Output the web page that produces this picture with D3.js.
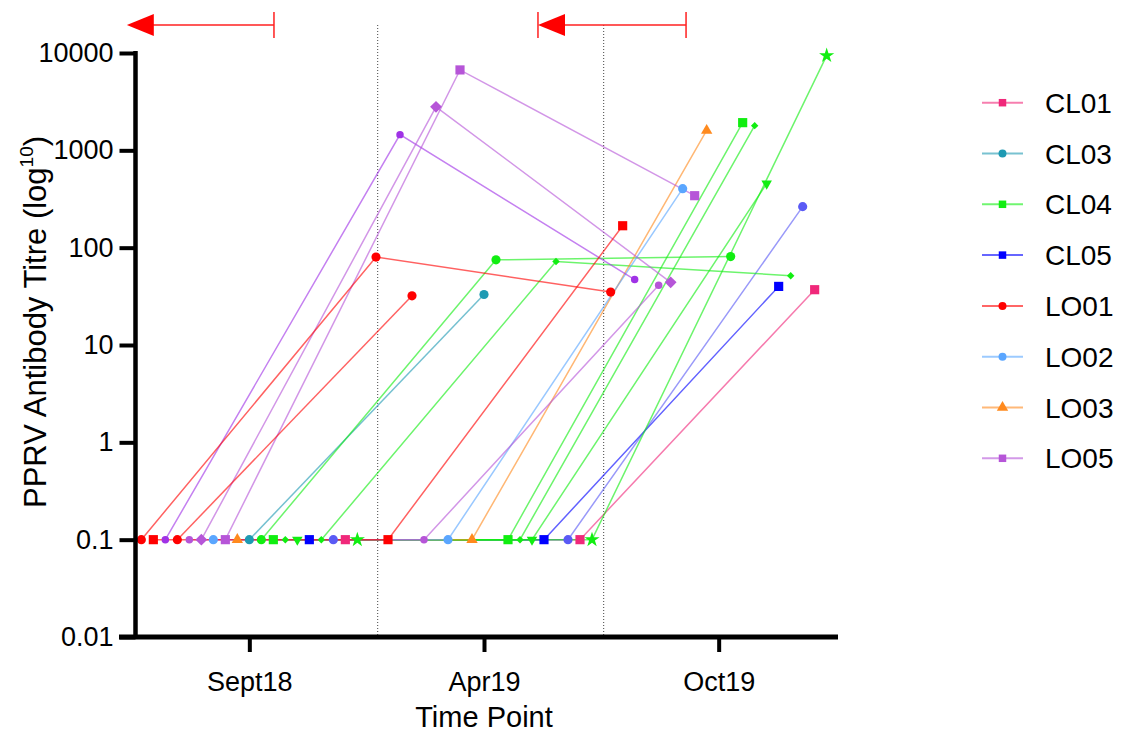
<!DOCTYPE html>
<html><head><meta charset="utf-8">
<script src="https://cdn.jsdelivr.net/npm/d3@7"></script>
<style>
body{margin:0;background:#fff;}
text{font-family:Arial,"Liberation Sans",sans-serif;fill:#000;}
</style>
</head><body>
<svg id="chart" width="1122" height="735"></svg>
<script>
// ---------- DATA ----------
const timePoints = ["Sept18", "Apr19", "Oct19"];
const groups = ["CL01", "CL03", "CL04", "CL05", "LO01", "LO02", "LO03", "LO05"];
const legendShapes = ["square", "circle", "square", "square", "circle", "circle", "triangle", "square"];
// one entry per animal, in plotting order
const animalGroup = ["LO01","LO01","LO05","LO01","LO05","LO05","LO02","LO05","LO03","CL03",
                     "CL04","CL04","CL04","CL04","CL05","CL04","CL05","CL01","CL04"];
const animalShape = ["circle","square","circleSmall","circle","circleSmall","diamond","circle","square","triangle","circle",
                     "circle","square","diamondSmall","triangleDown","square","diamondSmall","circle","square","star"];
const titreSept18 = [0.1,0.1,0.1,0.1,0.1,0.1,0.1,0.1,0.1,0.1,0.1,0.1,0.1,0.1,0.1,0.1,0.1,0.1,0.1];
const titreApr19  = [80,0.1,1450,32,0.1,2800,0.1,6700,0.1,33,75,0.1,0.1,0.1,0.1,72,0.1,0.1,0.1];
const titreOct19  = [35,168,47,null,41,44,404,342,1600,null,81,1925,1794,455,40,51.5,264,37,9400];
const yTicks = [0.01, 0.1, 1, 10, 100, 1000, 10000];
// annotations, in time-index units (0 = Sept18, 1 = Apr19, 2 = Oct19)
const periodDividers = [0.547, 1.51];
const arrowSpans = [[-0.522, 0.105, false], [1.23, 1.861, true]];

// ---------- STYLE ----------
const groupColor = {CL01:"#f0287a", CL03:"#1e9ab3", CL04:"#11ee11", CL05:"#0000ff",
                    LO01:"#ff0000", LO02:"#5aa6ff", LO03:"#ff8a1e", LO05:"#b655d8"};
const drawOrder = ["CL01", "CL03", "CL05", "CL04", "LO03", "LO02", "LO05", "LO01"]; // bottom -> top
const animalColorOverride = {2:"#a032e6", 16:"#5a5af5"};
const shapeDef = {
  circle:{type:d3.symbolCircle, size:66, rot:0},
  circleSmall:{type:d3.symbolCircle, size:44, rot:0},
  square:{type:d3.symbolSquare, size:84, rot:0},
  diamond:{type:d3.symbolSquare, size:70, rot:45},
  diamondSmall:{type:d3.symbolSquare, size:28, rot:45},
  triangle:{type:d3.symbolTriangle, size:56, rot:0},
  triangleDown:{type:d3.symbolTriangle, size:48, rot:180},
  star:{type:d3.symbolStar, size:72, rot:0}
};

const svg = d3.select("#chart");
const x = d3.scalePoint().domain(timePoints).range([132, 836]).padding(0.5);
const y = d3.scaleLog().domain([0.01, 10000]).range([637, 53]);
const jitter = d3.scaleLinear().domain([0, animalGroup.length - 1]).range([-108, 108]);
const tIdx = d3.scaleLinear().domain([0, 1]).range([x(timePoints[0]), x(timePoints[1])]);
const series = [titreSept18, titreApr19, titreOct19];
const colorOf = i => animalColorOverride[i] || groupColor[animalGroup[i]];

// dotted period dividers
svg.selectAll("line.div").data(periodDividers).join("line")
  .attr("x1", d => tIdx(d)).attr("x2", d => tIdx(d))
  .attr("y1", 25).attr("y2", 636)
  .attr("stroke", "#444").attr("stroke-width", 1).attr("stroke-dasharray", "1,2");

// arrows
const arrowG = svg.append("g");
arrowSpans.forEach(([a, b, leftTick]) => {
  const xa = tIdx(a), xb = tIdx(b);
  arrowG.append("line").attr("x1", xa + 26).attr("x2", xb).attr("y1", 25).attr("y2", 25)
    .attr("stroke", "#ff2020").attr("stroke-width", 1.5);
  arrowG.append("line").attr("x1", xb).attr("x2", xb).attr("y1", 12).attr("y2", 38)
    .attr("stroke", "#ff2020").attr("stroke-width", 1.5);
  if (leftTick) arrowG.append("line").attr("x1", xa).attr("x2", xa).attr("y1", 12).attr("y2", 38)
    .attr("stroke", "#ff2020").attr("stroke-width", 1.5);
  arrowG.append("path").attr("d", `M${xa},25L${xa + 27},14L${xa + 27},36Z`).attr("fill", "#ff0000");
});

// animal lines
const line = d3.line().x(d => d.x).y(d => y(d.v));
const animals = animalGroup.map((g, i) => ({
  i, g,
  pts: timePoints.map((t, k) => ({x: x(t) + jitter(i), v: series[k][i]})).filter(p => p.v != null)
}));
const linesSorted = animals.slice().sort((a, b) => drawOrder.indexOf(a.g) - drawOrder.indexOf(b.g));
svg.append("g").selectAll("path").data(linesSorted).join("path")
  .attr("d", d => line(d.pts)).attr("fill", "none")
  .attr("stroke", d => colorOf(d.i)).attr("stroke-width", 1.5).attr("stroke-opacity", 0.62);

// markers
const mk = svg.append("g");
animals.forEach(a => {
  const s = shapeDef[animalShape[a.i]];
  mk.selectAll(null).data(a.pts).join("path")
    .attr("d", d3.symbol().type(s.type).size(s.size))
    .attr("transform", d => `translate(${d.x},${y(d.v)}) rotate(${s.rot})`)
    .attr("fill", colorOf(a.i));
});

// axes
const yAxis = d3.axisLeft(y).tickValues(yTicks).tickFormat(d => String(d)).tickSize(16).tickPadding(6);
const gy = svg.append("g").attr("transform", "translate(135.5,0)").call(yAxis);
gy.select(".domain").remove();
gy.selectAll(".tick line").attr("stroke", "#000").attr("stroke-width", 4);
gy.selectAll(".tick text").attr("font-size", 27);
svg.append("line").attr("x1", 135.5).attr("x2", 135.5).attr("y1", 51).attr("y2", 639)
  .attr("stroke", "#000").attr("stroke-width", 4.5);

const xAxis = d3.axisBottom(x).tickSize(15).tickPadding(20);
const gx = svg.append("g").attr("transform", "translate(0,637)").call(xAxis);
gx.select(".domain").remove();
gx.selectAll(".tick line").attr("stroke", "#000").attr("stroke-width", 4);
gx.selectAll(".tick text").attr("font-size", 27);
svg.append("line").attr("x1", 119).attr("x2", 838).attr("y1", 637).attr("y2", 637)
  .attr("stroke", "#000").attr("stroke-width", 5);

// axis titles
svg.append("text").attr("x", x("Apr19")).attr("y", 727).attr("text-anchor", "middle")
  .attr("font-size", 29).text("Time Point");
const yt = svg.append("text").attr("transform", "translate(46,322) rotate(-90)")
  .attr("text-anchor", "middle").attr("font-size", 31);
yt.append("tspan").text("PPRV Antibody Titre (log");
yt.append("tspan").attr("font-size", 19).attr("dy", -13).text("10");
yt.append("tspan").attr("dy", 13).text(")");

// legend
const lg = svg.append("g").selectAll("g").data(groups).join("g")
  .attr("transform", (d, i) => `translate(0,${102.7 + i * 50.8})`);
lg.append("line").attr("x1", 982).attr("x2", 1023).attr("y1", 0).attr("y2", 0)
  .attr("stroke", d => groupColor[d]).attr("stroke-width", 2).attr("stroke-opacity", 0.6);
lg.append("path")
  .attr("d", (d, i) => d3.symbol().type(shapeDef[legendShapes[i]].type).size(legendShapes[i] === "circle" ? 50 : 56)())
  .attr("transform", "translate(1002.5,0)").attr("fill", d => groupColor[d]);
lg.append("text").attr("x", 1045).attr("dy", "0.36em").attr("font-size", 28).text(d => d);
</script>
</body></html>
